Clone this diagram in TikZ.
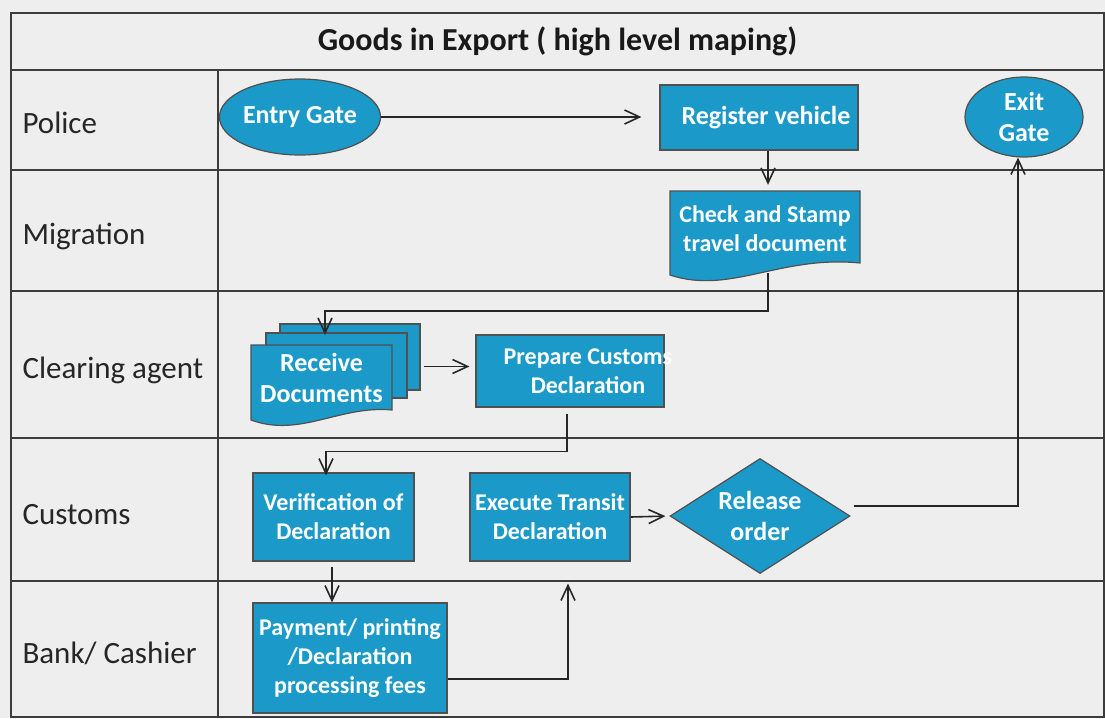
\documentclass[tikz,border=0pt]{standalone}
\usepackage{fontspec}
\setmainfont{Carlito}
\usetikzlibrary{shapes.geometric,arrows.meta,calc}

\definecolor{lanebg}{HTML}{EEEEEE}
\definecolor{boxblue}{HTML}{1B9AC9}
\definecolor{boxedge}{HTML}{505050}
\definecolor{rule}{HTML}{3C3C3C}

\tikzset{
	rule/.style={draw=rule, line width=1.4pt},
	lane/.style={anchor=base west, font=\fontsize{31}{36}\selectfont, text=black!85},
	shapefill/.style={draw=boxedge, fill=boxblue, line width=1.2pt},
	procbox/.style={shapefill, rectangle, inner sep=0pt},
	gate/.style={shapefill, ellipse, inner sep=0pt},
	txt/.style={text=white, align=center, font=\bfseries\fontsize{24}{29}\selectfont},
	bigtxt/.style={text=white, align=center, font=\bfseries\fontsize{26}{31}\selectfont},
	flow/.style={draw=black!85, line width=1.6pt, -{Straight Barb[length=15pt,width=14pt]}},
}

\begin{document}
\begin{tikzpicture}[x=1pt, y=-1pt]
		\useasboundingbox (0,0) rectangle (1105,718);
		\fill[lanebg] (0,0) rectangle (1105,718);
		
		% frame and swim lanes
		\draw[rule] (11,13) rectangle (1104,717);
		\draw[rule] (11,70) -- (1104,70);
		\foreach \y in {170,291,438,581}
			\draw[rule] (11,\y) -- (1104,\y);
		\draw[rule] (218,70) -- (218,717);
		
		\node[font=\bfseries\fontsize{32}{38}\selectfont, text=black!90] (title) at (557.5,41) {Goods in Export ( high level maping)};
		
		\node[lane] (police) at (19,133) {Police};
		\node[lane] (migration) at (19,244) {Migration};
		\node[lane] (agent) at (19,378) {Clearing agent};
		\node[lane] (customs) at (19,524) {Customs};
		\node[lane] (bank) at (19,663) {Bank/ Cashier};
		
		% document shapes
		\filldraw[shapefill] (670,191) -- (860,191) -- (860,263) .. controls (780,255) and (730,295) .. (670,275) -- cycle;
		\filldraw[shapefill] (280,324) rectangle (420,390);
		\filldraw[shapefill] (266,333) rectangle (407,398);
		\filldraw[shapefill] (251,345) -- (392,345) -- (392,410) .. controls (340,405) and (300,438) .. (251,420) -- cycle;
		
		% steps
		\node[gate, bigtxt, minimum width=132pt, minimum height=76pt] (gin) at (300,117) {Entry Gate};
		\node[procbox, minimum width=198pt, minimum height=65pt] (reg) at (759,117.5) {};
		\node[bigtxt] (regtxt) at (766,117.5) {Register vehicle};
		\node[gate, bigtxt, minimum width=118pt, minimum height=80pt] (gout) at (1024,117) {Exit\\Gate};
		\node[txt, inner sep=0pt, minimum width=190pt, minimum height=72pt] (chk) at (765,229) {Check and Stamp\\travel document};
		\node[bigtxt, inner sep=0pt, minimum width=141pt, minimum height=65pt] (recv) at (321.5,377.5) {Receive\\Documents};
		\node[procbox, minimum width=188pt, minimum height=72pt] (prep) at (570,371) {};
		\node[txt] (preptxt) at (588,371) {Prepare Customs\\Declaration};
		\node[procbox, txt, minimum width=161pt, minimum height=88pt] (verif) at (333.5,517) {Verification of\\Declaration};
		\node[procbox, txt, minimum width=160pt, minimum height=88pt] (exec) at (550,517) {Execute Transit\\Declaration};
		\node[shapefill, diamond, bigtxt, aspect=1.56, inner sep=0pt, minimum width=180pt, minimum height=115pt] (rel) at (760,516) {Release\\order};
		\node[procbox, txt, minimum width=194pt, minimum height=110pt] (pay) at (350,658) {Payment/ printing\\/Declaration\\processing fees};
		
		% connectors
		\draw[flow, shorten >=18pt] (gin.east) -- (gin.east -| reg.west);
		\draw[flow, shorten >=8pt] ($(reg.south)+(9,0)$) -- ($(chk.north)+(3,0)$);
		\draw[flow] ($(chk.south)+(3,8)$) -- ++(0,38) -| ($(recv.north)+(3.5,-10)$);
		\draw[flow, shorten >=6pt] ($(recv.east)+(32,-11)$) -- ($(recv.east -| prep.west)+(0,-11)$);
		\draw[flow] ($(prep.south)+(-3,6)$) -- ++(0,38) -| ($(verif.north)+(-7.5,3)$);
		\draw[flow] ($(verif.south)+(-1.5,5)$) -- ($(verif.south |- pay.north)+(-1.5,0)$);
		\draw[flow] ($(pay.east)+(0,21)$) -| ($(exec.south)+(18,22)$);
		\draw[flow, shorten >=4pt] (exec.east) -- (rel.west);
		\draw[flow] ($(rel.east)+(3,-10)$) -| ($(gout.south)+(-6,0)$);
\end{tikzpicture}
\end{document}
